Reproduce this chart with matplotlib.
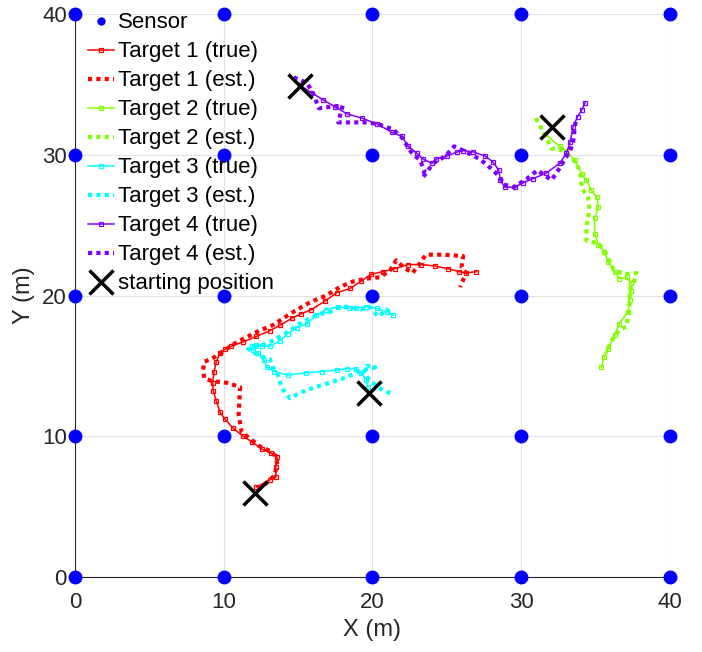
import matplotlib
matplotlib.use("Agg")
import matplotlib.pyplot as plt
import numpy as np

plt.rcParams['font.family'] = ['Liberation Sans', 'DejaVu Sans']

# sensor grid
sensor_x = [0, 10, 20, 30, 40]
sensor_y = [0, 10, 20, 30, 40]

# Target 1
t1_true_x = [12.2, 13.1, 13.5, 13.5, 13.6, 13.2, 12.55, 11.9, 11.3, 10.6, 10.1, 9.75, 9.5, 9.3, 9.25,
             9.35, 9.5, 9.75, 10.1, 10.5, 11.3, 12.2, 13.1, 13.8, 14.6, 15.2, 15.9, 16.8, 17.6, 18.5,
             19.2, 19.9, 20.7, 21.5, 22.4, 23.3, 24.2, 25.1, 25.8, 26.3, 27.0]
t1_true_y = [6.4, 6.9, 7.1, 7.8, 8.5, 8.8, 9.1, 9.6, 10.0, 10.6, 11.2, 11.7, 12.5, 13.2, 13.8,
             14.6, 15.3, 15.9, 16.2, 16.4, 16.7, 17.1, 17.5, 17.9, 18.4, 18.7, 19.0, 19.6, 20.2, 20.5,
             21.0, 21.5, 21.7, 21.9, 22.2, 22.2, 22.1, 21.9, 21.7, 21.6, 21.7]
t1_est_x = [12.3, 12.9, 13.4, 13.6, 13.5, 13.0, 12.4, 11.8, 11.2, 11.0, 11.1, 10.2, 9.3, 8.7, 8.6,
            8.7, 9.2, 9.75, 10.9, 12.2, 13.3, 14.7, 15.6, 16.2, 16.9, 17.8, 18.7, 19.6, 20.5, 21.2,
            21.6, 22.1, 22.7, 23.2, 23.6, 24.8, 26.1, 26.0, 26.3, 25.9]
t1_est_y = [6.2, 6.7, 7.2, 8.0, 8.6, 9.0, 9.3, 9.8, 10.3, 11.5, 13.5, 13.8, 13.9, 14.1, 14.7,
            15.3, 15.5, 15.9, 16.7, 17.4, 17.9, 18.85, 19.4, 19.7, 20.0, 20.6, 21.0, 21.2, 21.3, 21.8,
            22.5, 22.0, 21.6, 22.3, 22.9, 22.9, 22.8, 22.0, 21.6, 20.6]

# Target 2
t2_true_x = [31.6, 32.6, 33.05, 33.6, 34.1, 34.4, 34.7, 35.1, 35.2, 34.95, 34.95, 35.2, 35.6, 35.85,
             36.3, 36.6, 37.1, 37.4, 37.4, 37.3, 37.2, 36.6, 36.3, 35.85, 35.6, 35.4]
t2_true_y = [31.5, 30.6, 30.3, 29.6, 28.6, 28.2, 27.5, 27.0, 26.3, 25.5, 24.4, 23.6, 23.1, 22.4,
             21.7, 21.2, 21.3, 20.9, 20.3, 19.7, 18.85, 18.0, 17.2, 16.2, 15.65, 14.9]
t2_est_x = [31.0, 31.5, 32.05, 32.8, 33.5, 33.95, 34.1, 34.5, 34.6, 34.4, 34.4, 35.2, 35.7, 36.2,
            36.9, 37.75, 37.6, 37.3, 37.3, 37.1, 36.6, 36.1, 35.7]
t2_est_y = [32.6, 31.6, 30.45, 30.3, 29.7, 28.9, 27.6, 27.0, 26.1, 24.9, 23.9, 23.7, 23.0, 21.9,
            21.5, 21.6, 21.0, 20.4, 19.4, 17.8, 17.55, 16.8, 15.9]

# Target 3
t3_true_x = [19.7, 19.6, 19.2, 18.9, 18.3, 17.6, 16.6, 15.5, 14.3, 13.4, 12.9, 12.7, 12.3, 12.0, 11.9,
             12.2, 12.55, 13.1, 13.8, 14.3, 14.9, 15.6, 16.2, 16.9, 17.7, 18.4, 18.9, 19.6, 20.3,
             20.95, 21.4]
t3_true_y = [13.5, 14.0, 14.5, 14.8, 14.8, 14.7, 14.6, 14.5, 14.35, 14.6, 14.9, 15.4, 15.9, 16.1, 16.4,
             16.5, 16.4, 16.4, 16.8, 17.3, 17.7, 18.0, 18.6, 19.0, 19.2, 19.1, 19.1, 19.2, 19.1,
             18.85, 18.6]
t3_est_x = [21.2, 20.5, 19.9, 19.4, 19.6, 20.2, 19.0, 18.3, 17.4, 16.5, 15.6, 14.8, 14.45, 14.0, 13.8,
            13.6, 13.3, 13.1, 12.55, 12.1, 11.65, 12.4, 13.1, 13.8, 14.45, 15.1, 15.8, 16.5, 17.1,
            17.6, 18.3, 19.2, 19.8, 20.4, 20.95, 21.3]
t3_est_y = [13.05, 13.4, 13.9, 14.5, 15.0, 14.9, 14.6, 14.2, 13.9, 13.6, 13.3, 12.9, 12.7, 13.3, 13.8,
            14.5, 14.9, 15.5, 15.65, 15.9, 16.2, 16.4, 16.7, 17.1, 17.5, 18.0, 18.4, 18.7, 18.8,
            19.1, 19.2, 19.0, 19.2, 18.5, 19.0, 18.7]

# Target 4
t4_true_x = [15.1, 15.9, 16.7, 17.5, 18.3, 19.3, 20.3, 21.3, 22.0, 22.4, 23.0, 23.4, 24.0, 24.3, 25.0,
             25.7, 26.1, 26.8, 27.6, 28.1, 28.5, 28.6, 28.9, 29.6, 30.1, 30.8, 31.7, 32.6, 33.05,
             33.3, 33.5, 33.8, 34.1, 34.3]
t4_true_y = [34.96, 34.4, 33.9, 33.4, 32.9, 32.6, 32.2, 31.6, 31.3, 30.6, 30.1, 29.7, 29.4, 29.7, 29.9,
             30.2, 30.3, 30.2, 29.9, 29.5, 28.9, 28.2, 27.7, 27.7, 28.0, 28.3, 28.7, 29.4, 30.1,
             30.9, 32.0, 32.7, 33.2, 33.7]
t4_est_x = [14.7, 15.6, 16.0, 16.4, 17.1, 18.0, 17.7, 18.6, 19.5, 20.3, 21.4, 22.0, 22.6, 23.2, 23.5,
            23.4, 24.1, 24.9, 25.5, 26.3, 27.2, 27.7, 28.6, 28.8, 29.5, 30.4, 31.1, 32.05, 32.5,
            33.3, 33.5, 33.6, 33.7]
t4_est_y = [35.5, 35.1, 34.4, 33.3, 33.4, 33.5, 32.3, 32.3, 32.3, 32.2, 31.8, 31.2, 30.2, 29.6, 28.9,
            28.4, 29.4, 29.9, 30.6, 30.2, 29.7, 29.3, 28.4, 27.9, 27.7, 28.3, 28.9, 28.2, 28.9,
            30.3, 30.9, 31.8, 32.6]

start_x = [12.1, 32.1, 19.8, 15.1]
start_y = [6.0, 32.0, 13.1, 34.9]

colors = ['#ff0000', '#80ff00', '#00ffff', '#8000ff']
true_x = [t1_true_x, t2_true_x, t3_true_x, t4_true_x]
true_y = [t1_true_y, t2_true_y, t3_true_y, t4_true_y]
est_x = [t1_est_x, t2_est_x, t3_est_x, t4_est_x]
est_y = [t1_est_y, t2_est_y, t3_est_y, t4_est_y]

fig = plt.figure(figsize=(7.02, 6.52), dpi=100)
ax = fig.add_axes([0.107, 0.115, 0.847, 0.8635])

gx, gy = np.meshgrid(sensor_x, sensor_y)
ax.plot(gx.ravel(), gy.ravel(), 'o', color='#0000ff', ms=9, ls='none',
        clip_on=False, zorder=5, label='Sensor')

for i in range(4):
    ax.plot(true_x[i], true_y[i], '-s', color=colors[i], lw=1.1, ms=3.3, mfc='none', mew=0.9,
            label='Target %d (true)' % (i + 1))
    ax.plot(est_x[i], est_y[i], color=colors[i], lw=3, ls=(0, (1, 1)),
            label='Target %d (est.)' % (i + 1))

ax.plot(start_x, start_y, 'x', color='black', ms=17, mew=2.5, ls='none', zorder=6,
        label='starting position')

ax.set_xlim(0, 40)
ax.set_ylim(0, 40)
ax.set_xticks([0, 10, 20, 30, 40])
ax.set_yticks([0, 10, 20, 30, 40])
ax.grid(True, color='#e2e2e2', lw=0.8)
ax.set_axisbelow(True)
for s in ['top', 'right']:
    ax.spines[s].set_visible(False)
for s in ['left', 'bottom']:
    ax.spines[s].set_color('#262626')
ax.tick_params(labelsize=16, colors='#262626', length=0)
ax.tick_params(axis='x', pad=11)
ax.tick_params(axis='y', pad=6)
ax.set_xlabel('X (m)', fontsize=17, color='#262626', labelpad=4)
ax.set_ylabel('Y (m)', fontsize=17, color='#262626', labelpad=5)

leg = ax.legend(loc='upper left', bbox_to_anchor=(13 / 595, 1.003), frameon=False, fontsize=16,
                labelspacing=0.36, handlelength=1.15, handletextpad=0.2, borderpad=0,
                borderaxespad=0)
leg.legend_handles[0].set_markersize(5)
leg.set_zorder(10)

fig.savefig('out.png', dpi=100)
